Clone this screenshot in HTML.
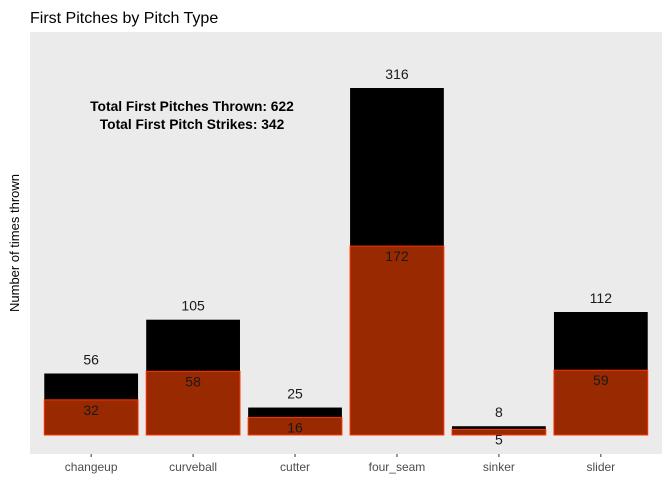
<!DOCTYPE html>
<html><head><meta charset="utf-8"><style>
body{margin:0;background:#fff;}
svg{display:block;font-family:"Liberation Sans",Arial,sans-serif;}
</style></head><body>
<svg id="chart" width="672" height="480" viewBox="0 0 672 480">
<rect x="0" y="0" width="672" height="480" fill="#fff"/>
<text x="30" y="23" font-size="16" fill="#000">First Pitches by Pitch Type</text>
<rect x="30" y="32" width="632" height="422" fill="#ebebeb"/>
<text transform="translate(19,243) rotate(-90)" text-anchor="middle" font-size="13" fill="#000">Number of times thrown</text>
<g id="bars"></g>
<g id="labels"></g>
<text x="192" y="111" text-anchor="middle" font-size="13.8" font-weight="bold" fill="#000">Total First Pitches Thrown: 622</text>
<text x="192" y="129" text-anchor="middle" font-size="13.8" font-weight="bold" fill="#000">Total First Pitch Strikes: 342</text>
</svg>
<script>
const categories=["changeup","curveball","cutter","four_seam","sinker","slider"];
const totals=[56,105,25,316,8,112];
const strikes=[32,58,16,172,5,59];
const NS="http://www.w3.org/2000/svg";
const panelX=30,panelW=632,baseY=435,pxPerUnit=(435-88)/316;
const step=panelW/(categories.length+0.2);
function xc(i){return panelX+step*(0.6+i);}
function y(v){return baseY-v*pxPerUnit;}
const bw=step*0.92;
const bars=document.getElementById('bars'),labels=document.getElementById('labels');
function mk(tag,attrs,parent){const e=document.createElementNS(NS,tag);for(const k in attrs)e.setAttribute(k,attrs[k]);parent.appendChild(e);return e;}
categories.forEach((c,i)=>{
  const b=mk('rect',{x:xc(i)-bw/2,y:y(totals[i]),width:bw,height:baseY-y(totals[i]),fill:'#000'},bars);
  
  
  const s=mk('rect',{x:xc(i)-bw/2,y:y(strikes[i]),width:bw,height:baseY-y(strikes[i]),fill:'#992900',stroke:'#ff3300','stroke-width':1},bars);
  
  
  const t=mk('text',{x:xc(i),y:y(totals[i])-9,'text-anchor':'middle','font-size':14,fill:'#1a1a1a'},labels);
  t.textContent=totals[i];
  
  
  const sl=mk('text',{x:xc(i),y:y(strikes[i])+15,'text-anchor':'middle','font-size':14,fill:'#1a1a1a'},labels);
  sl.textContent=strikes[i];
  
  
  const tk=mk('line',{x1:xc(i),x2:xc(i),y1:454,y2:457,stroke:'#333'},labels);
  
  
  const xl=mk('text',{x:xc(i),y:471,'text-anchor':'middle','font-size':12,fill:'#4d4d4d'},labels);
  xl.textContent=c;
  
  
});
</script>
</body></html>
